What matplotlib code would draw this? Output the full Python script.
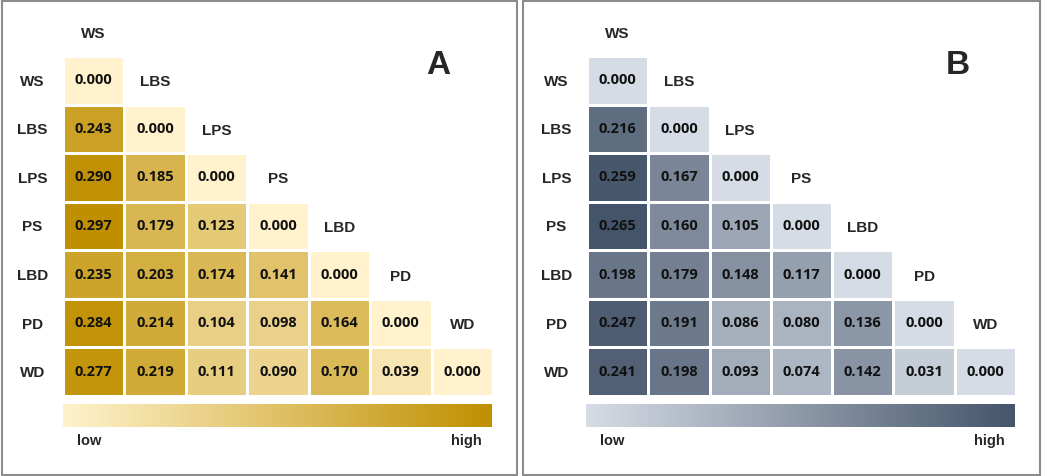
import numpy as np
import matplotlib
matplotlib.use("Agg")
import matplotlib.pyplot as plt
from matplotlib.colors import LinearSegmentedColormap, Normalize
from matplotlib.patches import Rectangle
import matplotlib as mpl

# ---- data ----
populations = ["WS", "LBS", "LPS", "PS", "LBD", "PD", "WD"]

fst_A = [
    [0.000],
    [0.243, 0.000],
    [0.290, 0.185, 0.000],
    [0.297, 0.179, 0.123, 0.000],
    [0.235, 0.203, 0.174, 0.141, 0.000],
    [0.284, 0.214, 0.104, 0.098, 0.164, 0.000],
    [0.277, 0.219, 0.111, 0.090, 0.170, 0.039, 0.000],
]
fst_B = [
    [0.000],
    [0.216, 0.000],
    [0.259, 0.167, 0.000],
    [0.265, 0.160, 0.105, 0.000],
    [0.198, 0.179, 0.148, 0.117, 0.000],
    [0.247, 0.191, 0.086, 0.080, 0.136, 0.000],
    [0.241, 0.198, 0.093, 0.074, 0.142, 0.031, 0.000],
]
panel_letters = ["A", "B"]
legend_low, legend_high = "low", "high"

W, H = 1042, 476
fig = plt.figure(figsize=(W / 100, H / 100), dpi=100)


def fbox(x, y, w, h):
    return [x / W, 1 - (y + h) / H, w / W, h / H]


LABEL_FONT = ["Liberation Sans", "DejaVu Sans"]
VALUE_FONT = ["Open Sans", "DejaVu Sans"]
LABEL_COLOR = "#262626"


def draw_panel(values, cmap, grid_x, grid_w, border_x, border_w, cbar_x, cbar_w, letter, letter_x):
    n = len(populations)
    mat = np.full((n, n), np.nan)
    for i, row in enumerate(values):
        for j, v in enumerate(row):
            mat[i, j] = v
    norm = Normalize(vmin=0, vmax=np.nanmax(mat))

    # panel border
    fig.add_artist(Rectangle((border_x / W, 1 - 475 / H), border_w / W, 474 / H,
                             transform=fig.transFigure, fill=False,
                             edgecolor="#8c8c8c", linewidth=1.5))

    ax = fig.add_axes(fbox(grid_x, 56, grid_w, 340))
    ax.pcolormesh(np.arange(n + 1) - 0.5, np.arange(n + 1) - 0.5,
                  np.ma.masked_invalid(mat), cmap=cmap, norm=norm,
                  edgecolors="white", linewidth=1.8)
    ax.set_xlim(-0.5, n - 0.5)
    ax.set_ylim(n - 0.5, -0.5)
    ax.axis("off")

    for i, row in enumerate(values):
        for j, v in enumerate(row):
            ax.text(j, i, f"{v:.3f}", ha="center", va="center",
                    fontsize=10.5, fontweight="bold", family=VALUE_FONT, color="#111111")
    for k, name in enumerate(populations):
        ax.text(-1.0, k + 0.03, name, ha="center", va="center", fontsize=11,
                fontweight="bold", family=LABEL_FONT, color=LABEL_COLOR, clip_on=False)
        ax.text(k, k - 1 + 0.04, name, ha="center", va="center", fontsize=11,
                fontweight="bold", family=LABEL_FONT, color=LABEL_COLOR, clip_on=False)

    # panel letter
    fig.text(letter_x / W, 1 - 65 / H, letter, ha="center", va="center",
             fontsize=24, fontweight="bold", family=LABEL_FONT, color="#262626")

    # colour legend bar
    cax = fig.add_axes(fbox(cbar_x, 404, cbar_w, 23))
    cb = mpl.colorbar.ColorbarBase(cax, cmap=cmap, norm=norm, orientation="horizontal")
    cb.outline.set_visible(False)
    cb.set_ticks([])
    cax.text(0.06, -0.6, legend_low, transform=cax.transAxes, ha="center", va="center",
             fontsize=10.5, fontweight="bold", family=LABEL_FONT, color=LABEL_COLOR)
    cax.text(0.94, -0.6, legend_high, transform=cax.transAxes, ha="center", va="center",
             fontsize=10.5, fontweight="bold", family=LABEL_FONT, color=LABEL_COLOR)


cmap_A = LinearSegmentedColormap.from_list("gold", ["#FFF2CC", "#BF8F00"])
cmap_B = LinearSegmentedColormap.from_list("slate", ["#D6DCE5", "#44546A"])

draw_panel(fst_A, cmap_A, 63, 430, 2, 515, 63, 429, panel_letters[0], 438)
draw_panel(fst_B, cmap_B, 587, 429, 523, 517, 586, 429, panel_letters[1], 958)

fig.savefig("out.png", dpi=100)
